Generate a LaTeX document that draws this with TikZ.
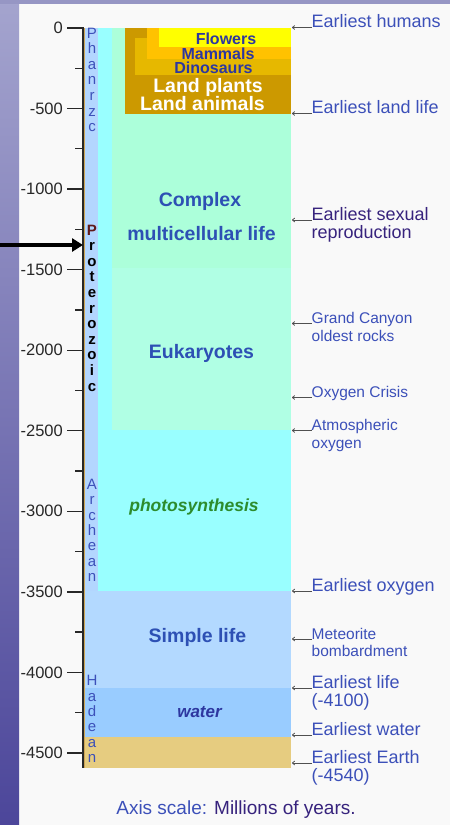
\documentclass[tikz,border=0pt]{standalone}
\usepackage{fontspec}
\setmainfont{Liberation Sans}
\usetikzlibrary{arrows.meta}
\definecolor{bgw}{RGB}{249,249,249}
\definecolor{stripTop}{RGB}{164,164,206}
\definecolor{stripBot}{RGB}{76,70,154}
\definecolor{topbar}{RGB}{150,150,196}
\definecolor{eracol}{RGB}{179,214,255}
\definecolor{cyanb}{RGB}{153,255,255}
\definecolor{mintA}{RGB}{172,255,218}
\definecolor{mintB}{RGB}{176,255,228}
\definecolor{phanc}{RGB}{204,153,0}
\definecolor{dinoc}{RGB}{230,184,0}
\definecolor{mammc}{RGB}{255,194,0}
\definecolor{flowc}{RGB}{255,255,0}
\definecolor{simplec}{RGB}{179,217,255}
\definecolor{waterc}{RGB}{153,204,255}
\definecolor{earthc}{RGB}{230,204,128}
\definecolor{lblue}{RGB}{60,80,185}
\definecolor{ldark}{RGB}{55,35,125}
\definecolor{bigblue}{RGB}{45,80,180}
\definecolor{photog}{RGB}{45,140,45}
\definecolor{navy}{RGB}{45,55,160}
\definecolor{tickcol}{RGB}{40,40,40}
\definecolor{arrgray}{RGB}{80,80,80}
\definecolor{protoP}{RGB}{95,25,25}
\definecolor{axtan}{RGB}{205,165,85}
\tikzset{
  tickmaj/.style={draw=tickcol, line width=1.3pt},
  ticklab/.style={anchor=east, inner sep=0pt, text=tickcol, font=\fontsize{16.5}{18}\selectfont},
  eralet/.style={anchor=base, inner sep=0pt, font=\fontsize{15}{15}\selectfont},
  rlab/.style={anchor=base west, inner sep=0pt, align=left, text=lblue, font=\fontsize{18}{18}\selectfont},
  slab/.style={anchor=base west, inner sep=0pt, align=left, text=lblue, font=\fontsize{15.5}{17.5}\selectfont},
  pointer/.style={draw=arrgray, line width=0.8pt, -{To[length=3pt,width=4.5pt]}},
  biglab/.style={anchor=base, inner sep=0pt, text=bigblue, font=\bfseries\fontsize{19.5}{20}\selectfont},
  phlab/.style={anchor=base, inner sep=0pt, text=navy, font=\bfseries\fontsize{16}{18}\selectfont},
  landlab/.style={anchor=base, inner sep=0pt, text=white, font=\bfseries\fontsize{19.5}{20}\selectfont},
}
\begin{document}
\begin{tikzpicture}[x=1pt,y=-1pt]
\useasboundingbox (0,0) rectangle (450,825);
% background
\fill[bgw] (0,0) rectangle (450,825);
\shade[top color=stripTop, bottom color=stripBot] (0,0) rectangle (19,825);
\fill[topbar] (0,0) rectangle (450,3.5);
% era column and bands
\fill[eracol] (84,28) rectangle (98,768);
\fill[cyanb] (98,28) rectangle (291,591);
\fill[mintA] (112,28) rectangle (291,268);
\fill[mintB] (112,268) rectangle (291,430);
\fill[phanc] (125,28) rectangle (291,114);
\fill[dinoc] (135,38) rectangle (291,75);
\fill[mammc] (147,28) rectangle (291,59);
\fill[flowc] (159,28) rectangle (291,47);
\fill[simplec] (84,591) rectangle (291,688);
\fill[waterc] (84,688) rectangle (291,737);
\fill[earthc] (84,737) rectangle (291,768);
% axis
\draw[axtan, line width=0.8pt] (84.3,28) -- (84.3,768);
\draw[tickcol, line width=1.5pt] (83,27.3) -- (83,768);
\foreach \t in {0,500,...,4500}{
  \pgfmathsetmacro{\yy}{28+0.1611*\t}
  \draw[tickmaj] (67,\yy) -- (83,\yy);
  \node[ticklab] (tl\t) at (63,\yy) {\ifnum\t=0 0\else-\t\fi};
}
\foreach \t in {250,750,...,4250}{
  \pgfmathsetmacro{\yy}{28+0.1611*\t}
  \draw[tickmaj] (75,\yy) -- (83,\yy);
}
% era letters
\foreach \l [count=\i] in {P,h,a,n,r,z,c}
  \node[eralet, text=lblue] (ph\i) at (92,{38+15.65*(\i-1)}) {\l};
\node[eralet, text=protoP, font=\bfseries\fontsize{15}{15}\selectfont] (pr0) at (92,235) {P};
\foreach \l [count=\i] in {r,o,t,e,r,o,z,o,i,c}
  \node[eralet, text=black, font=\bfseries\fontsize{15}{15}\selectfont] (pr\i) at (92,{235+15.6*\i}) {\l};
\foreach \l [count=\i] in {A,r,c,h,e,a,n}
  \node[eralet, text=lblue] (ar\i) at (92,{489.3+15.4*(\i-1)}) {\l};
\foreach \l [count=\i] in {H,a,d,e,a,n}
  \node[eralet, text=lblue] (ha\i) at (92,{685.7+15.4*(\i-1)}) {\l};
% big arrow
\coordinate (bigA) at (0,245);
\coordinate (bigB) at (83,245);
\draw[line width=3.5pt, -{Triangle[length=11pt,width=13pt]}] (bigA) -- (bigB);
% band labels
\node[phlab] (flo) at (226,44) {Flowers};
\node[phlab] (mam) at (218,59.5) {Mammals};
\node[phlab] (dino) at (213.5,73.5) {Dinosaurs};
\node[landlab] (lpl) at (208,92) {Land plants};
\node[landlab] (lan) at (202.5,110) {Land animals};
\node[biglab] (cx1) at (200,206.7) {Complex};
\node[biglab] (cx2) at (201.5,240.7) {multicellular life};
\node[biglab] (euk) at (201.5,358.3) {Eukaryotes};
\node[biglab, text=photog, font=\bfseries\itshape\fontsize{17.5}{20}\selectfont] (pho) at (194,511.7) {photosynthesis};
\node[biglab] (sim) at (197.5,642.7) {Simple life};
\node[biglab, text=navy, font=\bfseries\itshape\fontsize{17}{20}\selectfont] (wat) at (199.5,717.3) {water};
% right labels (multi-line labels are placed by their last baseline)
\coordinate (edge) at (292,0);
\node[rlab] (lhum) at (311.5,27.5) {Earliest humans};
\node[rlab] (lland) at (311.5,113.5) {Earliest land life};
\node[rlab, text=ldark] (lsex) at (311.5,238) {Earliest sexual\\reproduction};
\node[slab] (lgc) at (311.5,341) {Grand Canyon\\oldest rocks};
\node[slab] (lox) at (311.5,397.5) {Oxygen Crisis};
\node[slab] (latm) at (311.5,448) {Atmospheric\\oxygen};
\node[rlab] (leo) at (311.5,591) {Earliest oxygen};
\node[slab] (lmet) at (311.5,656.5) {Meteorite\\bombardment};
\node[rlab] (llife) at (311.5,706) {Earliest life\\(-4100)};
\node[rlab] (lwat) at (311.5,735) {Earliest water};
\node[rlab] (learth) at (311.5,781) {Earliest Earth\\(-4540)};
\foreach \n in {lhum,lland,lox,leo,lwat}
  \draw[pointer] (\n.base west) -- (\n.base west -| edge);
\foreach \n in {lsex,llife,learth}
  \draw[pointer] ([yshift=18pt]\n.base west) -- ([yshift=18pt]\n.base west -| edge);
\foreach \n in {lgc,latm,lmet}
  \draw[pointer] ([yshift=17.5pt]\n.base west) -- ([yshift=17.5pt]\n.base west -| edge);
% caption
\node[anchor=base, inner sep=0pt, font=\fontsize{19}{20}\selectfont] (cap) at (236,814) {\textcolor{lblue}{Axis scale:} \textcolor{ldark}{Millions of years.}};
\end{tikzpicture}
\end{document}
